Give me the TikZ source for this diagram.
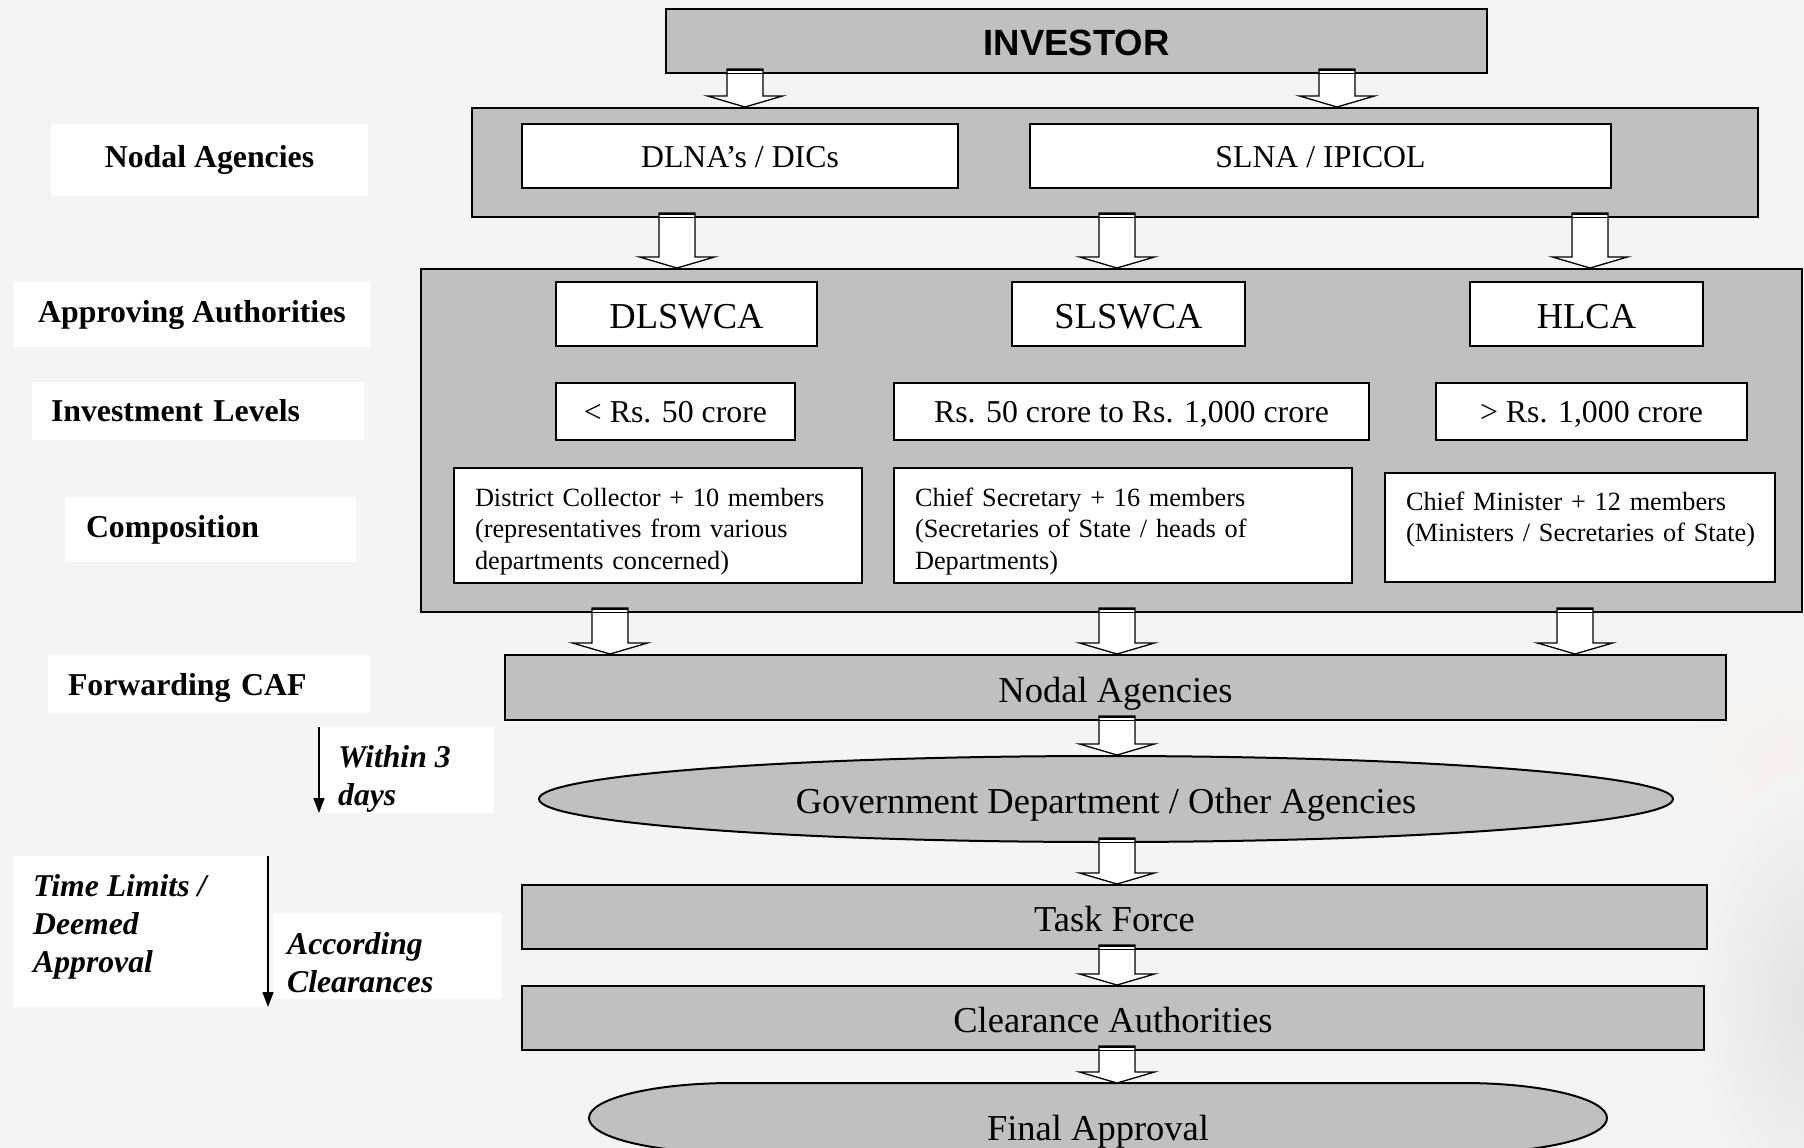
\documentclass[tikz,border=0pt]{standalone}
\usepackage{fontspec}
\setmainfont{Liberation Serif}
\newfontfamily\arialfont{Liberation Sans}
\usepackage{xcolor, tikz}
\usetikzlibrary{shapes.geometric, calc, arrows.meta}

\definecolor{boxgray}{RGB}{192,192,192}
\definecolor{bggray}{RGB}{243,244,244}
\definecolor{blobgray}{RGB}{224,226,228}
\definecolor{peach}{RGB}{247,240,235}

\newcommand{\bigtext}{\fontsize{36.5}{42}\selectfont}
\newcommand{\midtext}{\fontsize{31.8}{37}\selectfont}
\newcommand{\smalltext}{\fontsize{26.3}{31.5}\selectfont}
\newcommand{\itltext}{\bfseries\itshape\fontsize{31.7}{38}\selectfont}

% block arrow: column, from, to
\newcommand{\flowarrow}[3]{%
	\path (#1 |- #2) coordinate (bs) (#1 |- #3) coordinate (bt);
	\draw[blockarr] ($(bs)+(-18,-5)$) -- ($(bt)+(-18,-11)$) -- ($(bt)+(-37.5,-11)$) -- (bt)
		-- ($(bt)+(37.5,-11)$) -- ($(bt)+(18,-11)$) -- ($(bs)+(18,-5)$) -- cycle;
	\draw[line width=2.5pt] ($(bs)+(-18,-4)$) -- ($(bs)+(18,-4)$);
	\draw[line width=1pt] ($(bs)+(-18,-0.5)$) -- ($(bs)+(18,-0.5)$);
}

\begin{document}
\begin{tikzpicture}[x=1pt,y=-1pt]
	\tikzstyle{every node}=[inner sep=0pt]
	\tikzstyle{graybox}=[rectangle,draw,line width=2pt,fill=boxgray]
	\tikzstyle{whitebox}=[rectangle,draw,line width=2pt,fill=white]
	\tikzstyle{bigtxt}=[font=\bigtext,text height=36.5pt,text depth=7.3pt]
	\tikzstyle{midtxt}=[font=\midtext,text height=28pt,text depth=6pt]
	\tikzstyle{compbox}=[whitebox,align=left,font=\smalltext,inner xsep=21pt]
	\tikzstyle{lbl}=[rectangle,fill=white,font=\bfseries\midtext]
	\tikzstyle{blockarr}=[draw,fill=white,line width=1.3pt,line join=miter]
	\tikzstyle{tarrow}=[line width=1.6pt,-{Triangle[length=15pt,width=11pt]}]

	\useasboundingbox (0,0) rectangle (1804,1148);
	\fill[bggray] (0,0) rectangle (1804,1148);
	\shade[inner color=peach,outer color=bggray] (1780,760) ellipse [x radius=100,y radius=110];
	\shade[inner color=blobgray,outer color=bggray] (1810,1000) ellipse [x radius=120,y radius=230];

	\node[graybox,bigtxt,minimum width=821pt,minimum height=64pt,font={\arialfont\bfseries\bigtext}] (inv) at (1076.5,41) {INVESTOR};

	\node[graybox,minimum width=1286pt,minimum height=109pt] (nag) at (1115,162.5) {};
	\node[whitebox,midtxt,minimum width=436pt,minimum height=64pt] (dlna) at (740,156) {DLNA’s / DICs};
	\node[whitebox,midtxt,minimum width=581pt,minimum height=64pt] (slna) at (1320.5,156) {SLNA / IPICOL};

	\node[graybox,minimum width=1381pt,minimum height=343pt] (appr) at (1111.5,440.5) {};
	\node[whitebox,bigtxt,minimum width=261pt,minimum height=64pt] (dlswca) at (686.5,314) {DLSWCA};
	\node[whitebox,bigtxt,minimum width=233pt,minimum height=64pt] (slswca) at (1128.5,314) {SLSWCA};
	\node[whitebox,bigtxt,minimum width=233pt,minimum height=64pt] (hlca) at (1586.5,314) {HLCA};
	\node[whitebox,midtxt,minimum width=239pt,minimum height=57pt] (lvl1) at (675.5,411.5) {< Rs. 50 crore};
	\node[whitebox,midtxt,minimum width=475pt,minimum height=57pt] (lvl2) at (1131.5,411.5) {Rs. 50 crore to Rs. 1,000 crore};
	\node[whitebox,midtxt,minimum width=311pt,minimum height=57pt] (lvl3) at (1591.5,411.5) {> Rs. 1,000 crore};
	\node[compbox,minimum width=408pt,minimum height=115pt,text width=366pt] (comp1) at (658,525.5)
		{\rule{0pt}{30pt}District Collector + 10 members\\(representatives from various\\departments concerned)};
	\node[compbox,minimum width=458pt,minimum height=115pt,text width=416pt] (comp2) at (1123,525.5)
		{\rule{0pt}{30pt}Chief Secretary + 16 members\\(Secretaries of State / heads of\\Departments)};
	\node[compbox,minimum width=390pt,minimum height=109pt,text width=360pt,inner xsep=15pt] (comp3) at (1580,527.5)
		{\hspace*{6pt}\rule{0pt}{28pt}Chief Minister + 12 members\\\hspace*{6pt}(Ministers / Secretaries of State)\\\mbox{}};

	\node[graybox,bigtxt,minimum width=1221pt,minimum height=65pt] (fwd) at (1115.5,687.5) {Nodal Agencies};
	\node[ellipse,draw,line width=2pt,fill=boxgray,bigtxt,minimum width=1134pt,minimum height=86pt] (gov) at (1106,799)
		{Government Department / Other Agencies};
	\node[graybox,bigtxt,minimum width=1185pt,minimum height=64pt] (task) at (1114.5,917) {Task Force};
	\node[graybox,bigtxt,minimum width=1182pt,minimum height=64pt] (clr) at (1113,1018) {Clearance Authorities};
	\draw[line width=2pt,fill=boxgray] (733,1083) -- (1463,1083) arc[start angle=-90,end angle=90,x radius=144,y radius=35]
		-- (733,1153) arc[start angle=90,end angle=270,x radius=144,y radius=35] -- cycle;
	\coordinate (fintop) at (1098,1083);
	\node[bigtxt] (fin) at (1098,1125.5) {Final Approval};

	% arrow columns
	\coordinate (cA) at (745,0);
	\coordinate (cB) at (1337,0);
	\coordinate (cL) at (677,0);
	\coordinate (cM) at (1117,0);
	\coordinate (cR) at (1590,0);
	\coordinate (cL2) at (610,0);
	\coordinate (cR2) at (1575,0);

	\flowarrow{cA}{inv.south}{nag.north}
	\flowarrow{cB}{inv.south}{nag.north}
	\flowarrow{cL}{nag.south}{appr.north}
	\flowarrow{cM}{nag.south}{appr.north}
	\flowarrow{cR}{nag.south}{appr.north}
	\flowarrow{cL2}{appr.south}{fwd.north}
	\flowarrow{cM}{appr.south}{fwd.north}
	\flowarrow{cR2}{appr.south}{fwd.north}
	\flowarrow{cM}{fwd.south}{gov.north}
	\flowarrow{cM}{gov.south}{task.north}
	\flowarrow{cM}{task.south}{clr.north}
	\flowarrow{cM}{clr.south}{fintop}

	% left column
	\node[lbl,minimum width=317pt,minimum height=72pt] (lnag) at (209.5,160) {Nodal Agencies};
	\node[lbl,minimum width=356pt,minimum height=65pt] (lappr) at (192,314.5) {Approving Authorities};
	\node[lbl,minimum width=332pt,minimum height=58pt,text width=294pt,inner xsep=19pt,align=left] (llvl) at (198,411) {Investment Levels};
	\node[lbl,minimum width=291pt,minimum height=65pt,text width=249pt,inner xsep=21pt,align=left] (lcomp) at (210.5,529.5) {Composition};
	\node[lbl,minimum width=322pt,minimum height=58pt,text width=282pt,inner xsep=20pt,align=left,text depth=0pt] (lfwd) at (209,684) {Forwarding CAF};

	\fill[white] (319,727) rectangle (494,813);
	\node[anchor=west,align=left,font=\itltext] (within) at (338,779) {Within 3\\days};
	\coordinate (w1) at (319,727);
	\coordinate (w2) at (319,813);
	\draw[tarrow] (w1) -- (w2);

	\fill[white] (13,856) rectangle (266,1007);
	\node[anchor=west,align=left,font=\itltext] (tlim) at (33,927) {Time Limits /\\Deemed\\Approval};
	\fill[white] (273,913) rectangle (501,999);
	\node[anchor=west,align=left,font=\itltext] (acc) at (287,963) {According\\Clearances};
	\coordinate (t1) at (268,856);
	\coordinate (t2) at (268,1007);
	\draw[tarrow] (t1) -- (t2);
\end{tikzpicture}
\end{document}
